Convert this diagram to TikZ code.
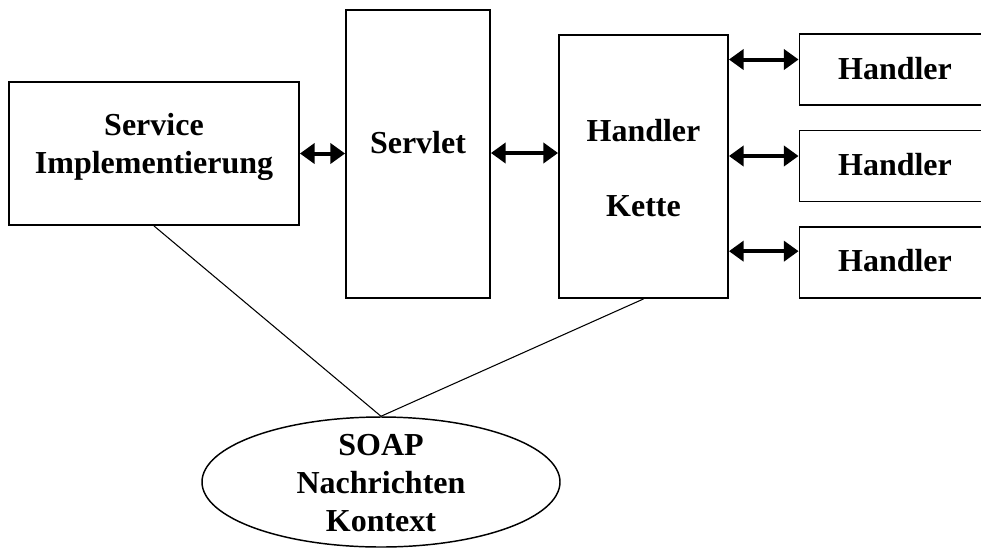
\documentclass[tikz,border=0pt]{standalone}
\usepackage{fontspec}
\setmainfont{Liberation Serif}
\usetikzlibrary{arrows.meta,shapes.geometric}

\tikzset{
  box/.style={draw, line width=1.4pt, rectangle, inner sep=0pt, align=center},
  label/.style={inner sep=0pt, align=center, font=\bfseries\fontsize{24}{28.8}\selectfont},
  dbl/.style={line width=3pt, {Triangle[length=11pt,width=15pt]}-{Triangle[length=11pt,width=15pt]}},
  thin/.style={line width=0.8pt},
}

\begin{document}
\begin{tikzpicture}[x=0.75pt, y=-0.75pt]
  \useasboundingbox (0,0) rectangle (981,558);
  \clip (0,0) rectangle (981,558);

  % boxes
  \node[box, minimum width=217.5pt, minimum height=107.25pt] (svc) at (154,153.5) {};
  \node[box, minimum width=108pt, minimum height=216pt] (servlet) at (418,154) {};
  \node[box, minimum width=126.75pt, minimum height=197.25pt] (kette) at (643.5,166.5) {};
  \node[box, minimum width=146.25pt, minimum height=53.25pt] (h1) at (897,69.5) {};
  \node[box, minimum width=146.25pt, minimum height=53.25pt] (h2) at (897,166) {};
  \node[box, minimum width=146.25pt, minimum height=53.25pt] (h3) at (897,262.5) {};
  \node[draw, line width=1.1pt, ellipse, minimum width=268.5pt, minimum height=97.5pt, inner sep=0pt] (ctx) at (381,482) {};

  % texts
  \node[label] (tsvc) at (154,147) {Service\\Implementierung};
  \node[label] (tservlet) at (418,143) {Servlet};
  \node[label] (tkette) at (643.5,168) {Handler\\[28pt]Kette};
  \node[label] (th1) at (895,69) {Handler};
  \node[label] (th2) at (895,165) {Handler};
  \node[label] (th3) at (895,261) {Handler};
  \node[label] (tctx) at (381,483) {SOAP\\Nachrichten\\Kontext};

  % double arrows
  \draw[dbl] (svc.east) -- (svc.east -| servlet.west);
  \draw[dbl] (servlet.east |- 0,153) -- (kette.west |- 0,153);
  \coordinate (a1) at ([yshift=7.5pt]h1.west);
  \coordinate (a2) at ([yshift=7.5pt]h2.west);
  \coordinate (a3) at ([yshift=8.5pt]h3.west);
  \draw[dbl] (kette.east |- a1) -- (a1);
  \draw[dbl] (kette.east |- a2) -- (a2);
  \draw[dbl] (kette.east |- a3) -- (a3);

  % context links
  \draw[thin] (svc.south) -- (ctx.north);
  \draw[thin] (kette.south) -- (ctx.north);
\end{tikzpicture}
\end{document}
